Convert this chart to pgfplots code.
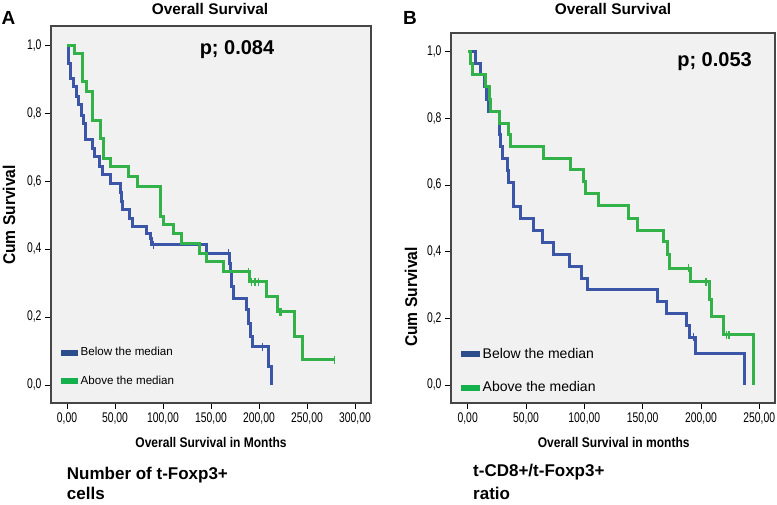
\documentclass[border=0pt]{standalone}
\usepackage{pgfplots}
\pgfplotsset{compat=1.18}
\usepackage{fontspec}
\setmainfont{Liberation Sans}
\newfontfamily\tickf[FakeStretch=0.74]{Liberation Sans}
\newfontfamily\labf[FakeStretch=0.86]{Liberation Sans}
\newfontfamily\ylabf[FakeStretch=0.92]{Liberation Sans}
\definecolor{blueline}{RGB}{59,86,166}
\definecolor{greenline}{RGB}{52,178,74}
\definecolor{blueleg}{RGB}{44,77,140}
\definecolor{greenleg}{RGB}{20,176,75}
\definecolor{bgc}{RGB}{241,241,241}
\definecolor{framec}{RGB}{70,70,70}

\pgfplotsset{
  kmaxis/.style={
    scale only axis, anchor=south west,
    axis background/.style={fill=bgc},
    axis line style={draw=framec, line width=1.1pt},
    tick align=outside, tick pos=left, major tick length=6pt,
    tick style={black, line width=0.8pt},
    ytick={0,0.2,0.4,0.6,0.8,1},
    xticklabel style={font=\tickf\fontsize{14}{14}\selectfont, /pgf/number format/.cd, use comma, fixed, fixed zerofill, precision=2, 1000 sep={}, assume math mode=true},
    yticklabel style={font=\tickf\fontsize{14}{14}\selectfont, /pgf/number format/.cd, use comma, fixed, fixed zerofill, precision=1, assume math mode=true},
    clip=false,
    legend cell align=left,
  },
  km/.style={const plot mark left, mark=none, line width=3pt, line join=miter},
}

\begin{document}
\begin{tikzpicture}[x=1pt,y=1pt]
\useasboundingbox (0,0) rectangle (777,505);

% ---------------- Panel A ----------------
\begin{axis}[kmaxis, at={(51pt,102pt)}, width=320pt, height=377pt,
  xmin=-16.7, xmax=316.7, ymin=-0.053, ymax=1.056,
  xtick={0,50,100,150,200,250,300},
  legend style={at={(0.022,0.159)}, anchor=north west, draw=none, fill=none,
    font=\fontsize{11.6}{12}\selectfont, row sep=14.5pt,
    /tikz/every odd column/.append style={column sep=1pt}},
]
\addlegendimage{legend image code/.code={\fill[blueleg] (0pt,-2.5pt) rectangle (16pt,2.5pt);}}
\addlegendentry{Below the median}
\addlegendimage{legend image code/.code={\fill[greenleg] (0pt,-2.5pt) rectangle (16pt,2.5pt);}}
\addlegendentry{Above the median}
\addplot[km, blueline, forget plot] coordinates {
(1.4,1.0) (2,0.946) (3.8,0.902) (6.6,0.877) (10,0.848) (11.8,0.824) (15.3,0.794)
(17,0.770) (18.8,0.721) (26.7,0.696) (29,0.672) (33.7,0.642) (37,0.618) (44.8,0.593)
(56,0.566) (57,0.540) (58,0.515) (65,0.490) (68,0.466) (83,0.446) (87.2,0.431)
(88.5,0.412) (145.5,0.387) (169,0.358) (169.8,0.333) (171.5,0.289) (173.3,0.255)
(187.2,0.221) (189.5,0.18) (191,0.142) (193.4,0.113) (209.7,0.054) (213.2,0)
};
\addplot[km, greenline, forget plot] coordinates {
(0.3,1.0) (7.3,0.976) (16,0.892) (19.8,0.863) (26.7,0.779) (35,0.726) (38.5,0.667)
(45.5,0.642) (63.9,0.613) (73.3,0.585) (97.6,0.495) (101,0.471) (111,0.446)
(119.5,0.417) (137.8,0.387) (145,0.363) (162.8,0.333) (190,0.304) (208,0.260)
(219.1,0.216) (237.5,0.144) (245.5,0.074) (279,0.074)
};
\addplot[only marks, mark=|, mark size=4pt, mark options={line width=1.3pt, draw=blueline}, forget plot]
 coordinates {(90,0.412) (168,0.387) (203.8,0.113)};
\addplot[only marks, mark=|, mark size=4pt, mark options={line width=1.3pt, draw=greenline}, forget plot]
 coordinates {(189,0.333) (192.4,0.304) (195.8,0.304) (199.3,0.304) (222,0.216) (223.6,0.216) (279,0.074)};
\end{axis}

% ---------------- Panel B ----------------
\begin{axis}[kmaxis, at={(451pt,102pt)}, width=324pt, height=370pt,
  xmin=-14.3, xmax=263.5, ymin=-0.054, ymax=1.056,
  xtick={0,50,100,150,200,250},
  legend style={at={(0.022,0.160)}, anchor=north west, draw=none, fill=none,
    font=\fontsize{14}{14}\selectfont, row sep=18pt,
    /tikz/every odd column/.append style={column sep=1pt}},
]
\addlegendimage{legend image code/.code={\fill[blueleg] (0pt,-2.5pt) rectangle (18pt,2.5pt);}}
\addlegendentry{Below the median}
\addlegendimage{legend image code/.code={\fill[greenleg] (0pt,-2.5pt) rectangle (18pt,2.5pt);}}
\addlegendentry{Above the median}
\addplot[km, blueline, forget plot] coordinates {
(3.4,1.0) (7.1,0.965) (11.1,0.93) (14,0.895) (16.3,0.857) (17.7,0.821) (27.1,0.786)
(27.7,0.75) (28.5,0.714) (30,0.679) (34.3,0.643) (35.4,0.607) (39.1,0.571) (39.7,0.536)
(45.7,0.5) (56.8,0.463) (64.3,0.427) (73.4,0.39) (87.1,0.355) (97.7,0.32) (102.8,0.287)
(162.6,0.25) (170.6,0.213) (187.8,0.177) (190,0.143) (195.7,0.093) (237.7,0)
};
\addplot[km, greenline, forget plot] coordinates {
(0.5,1.0) (2.6,0.965) (4,0.93) (15.7,0.895) (19.1,0.857) (19.5,0.821) (27.7,0.785)
(35.4,0.75) (37.1,0.715) (65.4,0.68) (88.3,0.645) (99.1,0.61) (101.1,0.575) (112,0.537)
(137.7,0.5) (145.4,0.463) (168.3,0.43) (171.1,0.39) (173.4,0.35) (191.4,0.31)
(207.1,0.255) (209.2,0.205) (219.2,0.15) (244.9,0)
};
\addplot[only marks, mark=|, mark size=4pt, mark options={line width=1.3pt, draw=blueline}, forget plot]
 coordinates {(193.4,0.143)};
\addplot[only marks, mark=|, mark size=4pt, mark options={line width=1.3pt, draw=greenline}, forget plot]
 coordinates {(189.1,0.35) (204.3,0.31) (222,0.15) (224,0.15)};
\end{axis}

% ---------------- Text ----------------
\node[anchor=base west, inner sep=0, font=\bfseries\fontsize{19}{19}\selectfont] at (1.5,480) {A};
\node[anchor=base west, inner sep=0, font=\bfseries\fontsize{19}{19}\selectfont] at (403,480) {B};
\node[anchor=base, inner sep=0, font=\bfseries\fontsize{15.4}{16}\selectfont] at (210,490) {Overall Survival};
\node[anchor=base, inner sep=0, font=\bfseries\fontsize{15.4}{16}\selectfont] at (613,490) {Overall Survival};
\node[anchor=base, inner sep=0, font=\bfseries\fontsize{20}{20}\selectfont] at (237,450) {p; 0.084};
\node[anchor=base east, inner sep=0, font=\bfseries\fontsize{20}{20}\selectfont] at (752,438) {p; 0.053};
\node[anchor=base, inner sep=0, font=\labf\bfseries\fontsize{14}{14}\selectfont] at (211,57) {Overall Survival in Months};
\node[anchor=base, inner sep=0, font=\labf\bfseries\fontsize{14}{14}\selectfont] at (613.7,57) {Overall Survival in months};
\node[rotate=90, inner sep=0, font=\ylabf\bfseries\fontsize{17}{17}\selectfont] at (9,290) {Cum Survival};
\node[rotate=90, inner sep=0, font=\ylabf\bfseries\fontsize{17}{17}\selectfont] at (411,208) {Cum Survival};
\node[anchor=base west, inner sep=0, font=\bfseries\fontsize{17}{17}\selectfont] at (66.7,25.7) {Number of t-Foxp3+};
\node[anchor=base west, inner sep=0, font=\bfseries\fontsize{17}{17}\selectfont] at (66.7,5) {cells};
\node[anchor=base west, inner sep=0, font=\bfseries\fontsize{17}{17}\selectfont] at (473,28.3) {t-CD8+/t-Foxp3+};
\node[anchor=base west, inner sep=0, font=\bfseries\fontsize{17}{17}\selectfont] at (473,5) {ratio};
\end{tikzpicture}
\end{document}
